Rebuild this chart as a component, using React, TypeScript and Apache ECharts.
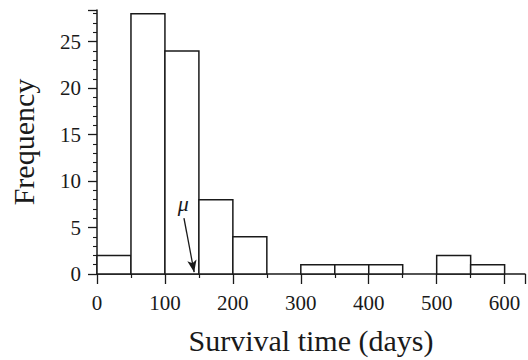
import React, { useEffect, useRef } from "react";
import * as echarts from "echarts";

const binStarts = [0, 50, 100, 150, 200, 250, 300, 350, 400, 450, 500, 550];
const binWidth = 50;
const frequencies = [2, 28, 24, 8, 4, 0, 1, 1, 1, 0, 2, 1];
const meanValue = 143;
const xTicks = [0, 100, 200, 300, 400, 500, 600];
const yTicks = [0, 5, 10, 15, 20, 25];

const FONT = "'Liberation Serif', 'DejaVu Serif', serif";
const INK = "#1a1a1a";

export default function App() {
  const ref = useRef<HTMLDivElement>(null);
  useEffect(() => {
    if (!ref.current) return;
    const chart = echarts.init(ref.current, null, { renderer: "svg" });
    const data = binStarts.map((s, i) => [s, s + binWidth, frequencies[i]]);
    chart.setOption({
      animation: false,
      backgroundColor: "#ffffff",
      grid: { left: 95, right: 0, top: 10, bottom: 84, containLabel: false },
      xAxis: {
        type: "value",
        min: 0,
        max: 630,
        interval: 100,
        name: "Survival time (days)",
        nameLocation: "middle",
        nameGap: 51,
        nameTextStyle: { fontFamily: FONT, fontSize: 30, color: INK },
        axisLine: { show: true, lineStyle: { color: INK, width: 1.5 } },
        axisTick: { show: true, length: 10, lineStyle: { color: INK, width: 1.3 } },
        minorTick: { show: true, splitNumber: 2, length: 4, lineStyle: { color: INK, width: 1.2 } },
        axisLabel: {
          fontFamily: FONT,
          fontSize: 21,
          color: INK,
          margin: 18,
          formatter: (v: number) => (xTicks.includes(v) ? String(v) : ""),
        },
        splitLine: { show: false },
      },
      yAxis: {
        type: "value",
        min: 0,
        max: 28.4,
        interval: 5,
        name: "Frequency",
        nameLocation: "middle",
        nameGap: 59,
        nameTextStyle: { fontFamily: FONT, fontSize: 30, color: INK },
        axisLine: { show: true, lineStyle: { color: INK, width: 1.5 } },
        axisTick: { show: true, length: 9, lineStyle: { color: INK, width: 1.3 } },
        minorTick: { show: true, splitNumber: 5, length: 4, lineStyle: { color: INK, width: 1.1 } },
        axisLabel: {
          fontFamily: FONT,
          fontSize: 21,
          color: INK,
          margin: 16,
          formatter: (v: number) => (yTicks.includes(v) ? String(v) : ""),
        },
        splitLine: { show: false },
      },
      series: [
        {
          type: "custom",
          data,
          renderItem: (params: any, api: any) => {
            const x0 = api.value(0);
            const x1 = api.value(1);
            const y = api.value(2);
            if (!y) return null;
            const p0 = api.coord([x0, y]);
            const p1 = api.coord([x1, 0]);
            return {
              type: "rect",
              shape: { x: p0[0], y: p0[1], width: p1[0] - p0[0], height: p1[1] - p0[1] },
              style: { fill: "#ffffff", stroke: INK, lineWidth: 1.5 },
            };
          },
          encode: { x: [0, 1], y: 2 },
          z: 1,
          markLine: {
            silent: true,
            symbol: ["none", "arrow"],
            symbolSize: [7, 12],
            label: { show: false },
            lineStyle: { color: INK, width: 1.3, type: "solid" },
            data: [[{ coord: [128, 6.0] }, { coord: [meanValue, 0.2] }]],
          },
          markPoint: {
            silent: true,
            symbol: "circle",
            symbolSize: 0,
            label: {
              show: true,
              formatter: "μ",
              fontFamily: FONT,
              fontStyle: "italic",
              fontSize: 22,
              color: INK,
              position: "inside",
            },
            data: [{ coord: [127, 7.6] }],
          },
        },
      ],
    });
    return () => chart.dispose();
  }, []);
  return <div ref={ref} style={{ width: 528, height: 360, position: "absolute", left: 0, top: 0 }} />;
}
